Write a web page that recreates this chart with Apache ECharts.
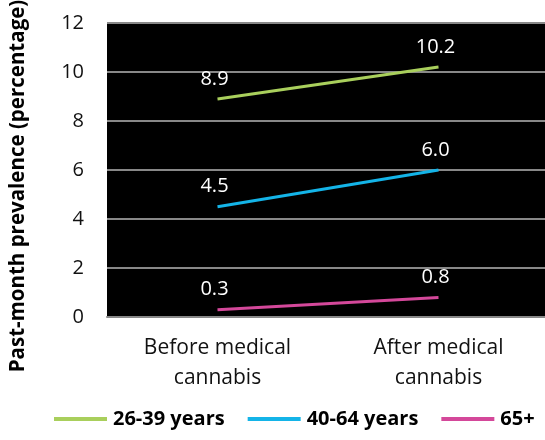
<!DOCTYPE html>
<html><head><meta charset="utf-8">
<script src="https://cdn.jsdelivr.net/npm/echarts@6/dist/echarts.min.js"></script>
<style>html,body{margin:0;padding:0;background:#fff}#c{width:545px;height:440px}</style>
</head><body><div id="c"></div>
<script>
var categories = ['Before medical\ncannabis', 'After medical\ncannabis'];
var seriesNames = ['26-39 years', '40-64 years', '65+'];
var age2639 = [8.9, 10.2];
var age4064 = [4.5, 6.0];
var age65 = [0.3, 0.8];
var colors = ['#A9CF5C', '#14B4E8', '#D4489A'];
var FONT = '"Open Sans", sans-serif';
var chart = echarts.init(document.getElementById('c'));
function mk(name, data, color) {
  return {
    name: name, type: 'line', data: data, symbol: 'circle', symbolSize: 0, showSymbol: true,
    lineStyle: { color: color, width: 3 }, itemStyle: { color: color },
    label: { show: true, position: 'top', distance: 10, offset: [-3, 0], color: '#fff', fontSize: 20, fontFamily: FONT,
      formatter: function (p) { return p.value.toFixed(1); } }
  };
}
chart.setOption({
  animation: false,
  textStyle: { fontFamily: FONT },
  grid: { left: 107, right: -4, top: 23, bottom: 123, backgroundColor: '#000', show: true, borderWidth: 0,
    outerBoundsMode: 'none', containLabel: false },
  xAxis: {
    type: 'category', data: categories, boundaryGap: true,
    axisLine: { show: true, lineStyle: { color: '#888', width: 2 } }, axisTick: { show: false },
    axisLabel: { color: '#111', fontSize: 21, fontFamily: FONT, lineHeight: 30, margin: 16 }
  },
  yAxis: {
    type: 'value', min: 0, max: 12, interval: 2,
    name: 'Past-month prevalence (percentage)', nameLocation: 'middle', nameGap: 78, nameRotate: 90,
    nameTextStyle: { color: '#000', fontSize: 20.5, fontWeight: 'bold', fontFamily: FONT, padding: [0, 32, 0, 0] },
    axisLine: { show: false }, axisTick: { show: false },
    axisLabel: { color: '#111', fontSize: 20, fontFamily: FONT, margin: 23 },
    splitLine: { show: true, lineStyle: { color: '#888', width: 2 } }
  },
  legend: {
    bottom: 6, left: 49, itemWidth: 53, itemHeight: 4, itemGap: 23, icon: 'rect',
    textStyle: { color: '#000', fontSize: 20, fontWeight: 'bold', fontFamily: FONT, padding: [0, 0, 0, 1] },
    data: seriesNames
  },
  series: [mk(seriesNames[0], age2639, colors[0]), mk(seriesNames[1], age4064, colors[1]), mk(seriesNames[2], age65, colors[2])]
});
</script></body></html>
